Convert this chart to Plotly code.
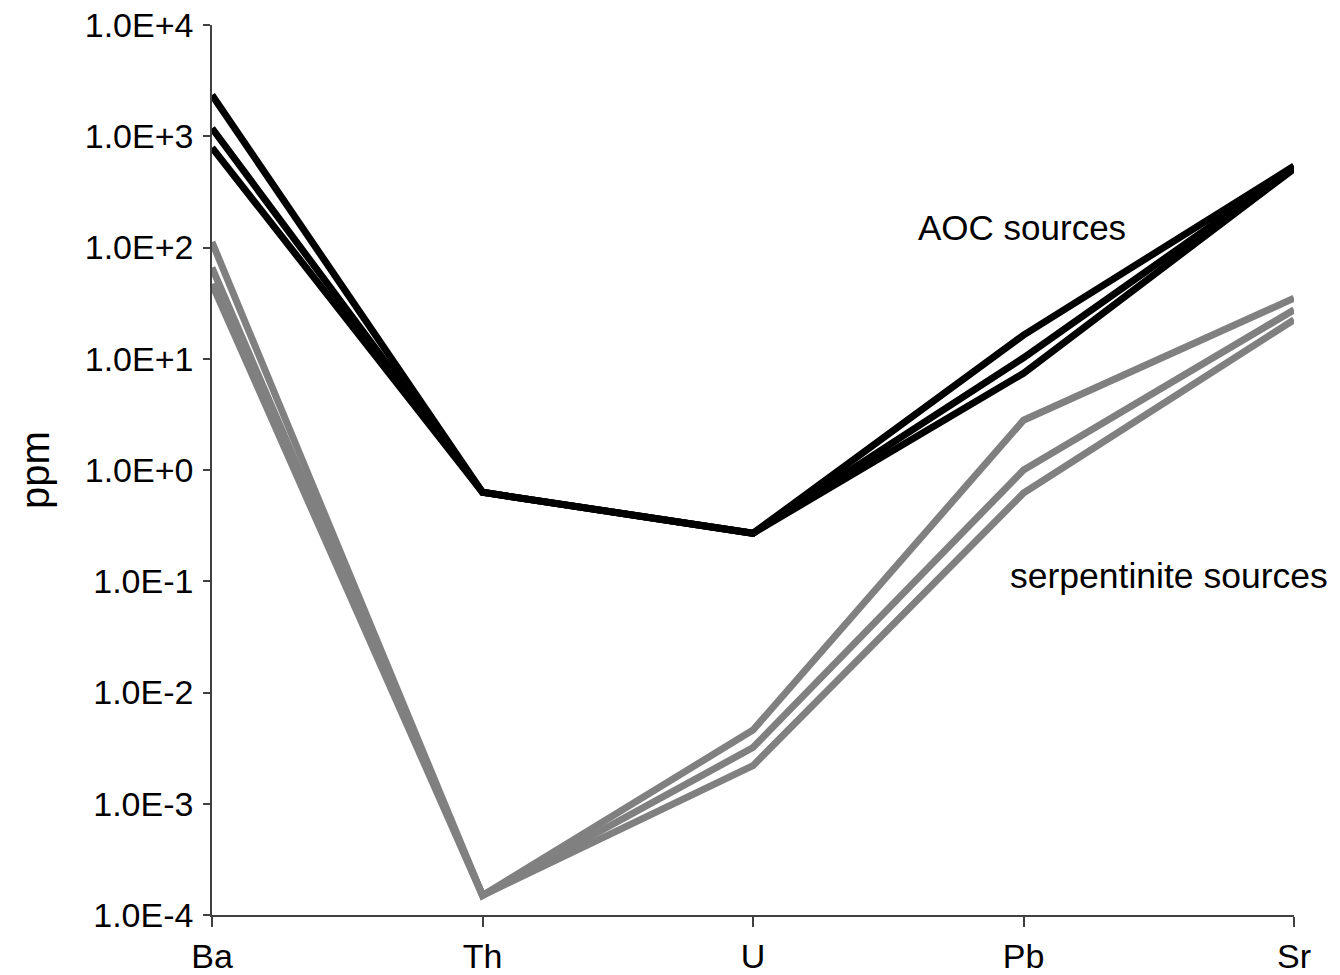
import plotly.graph_objects as go

# Trace-element abundances (ppm) for fluid sources
elements = ["Ba", "Th", "U", "Pb", "Sr"]

aoc_1 = [2350, 0.63, 0.27, 16.3, 540]
aoc_2 = [1180, 0.63, 0.27, 10.2, 525]
aoc_3 = [790, 0.63, 0.27, 7.4, 510]

serp_1 = [112, 0.00015, 0.0046, 2.8, 35]
serp_2 = [66, 0.00015, 0.0032, 1.0, 27.5]
serp_3 = [47, 0.00015, 0.0022, 0.62, 22.4]

tick_vals = [1e-4, 1e-3, 1e-2, 1e-1, 1e0, 1e1, 1e2, 1e3, 1e4]
tick_text = ["1.0E-4", "1.0E-3", "1.0E-2", "1.0E-1", "1.0E+0",
             "1.0E+1", "1.0E+2", "1.0E+3", "1.0E+4"]

xpos = list(range(len(elements)))

fig = go.Figure()
for ys in (serp_1, serp_2, serp_3):
    fig.add_trace(go.Scatter(x=xpos, y=ys, mode="lines",
                             line=dict(color="#808080", width=7),
                             showlegend=False, hoverinfo="skip"))
for ys in (aoc_1, aoc_2, aoc_3):
    fig.add_trace(go.Scatter(x=xpos, y=ys, mode="lines",
                             line=dict(color="#000000", width=7),
                             showlegend=False, hoverinfo="skip"))

fig.add_annotation(x=3.386, y=2.18, xref="x", yref="y", text="AOC sources",
                   showarrow=False, xanchor="right", yanchor="middle",
                   font=dict(size=35, color="#000000"))
fig.add_annotation(x=1.0333, y=-0.95, xref="paper", yref="y", text="serpentinite sources",
                   showarrow=False, xanchor="right", yanchor="middle",
                   font=dict(size=35.5, color="#000000"))
fig.add_annotation(x=-0.1636, y=0, xref="paper", yref="y", text="ppm",
                   showarrow=False, xanchor="center", yanchor="middle",
                   textangle=-90, font=dict(size=40, color="#000000"))

fig.update_layout(
    width=1340, height=975,
    margin=dict(l=212, r=46, t=25, b=60, autoexpand=False),
    paper_bgcolor="white", plot_bgcolor="white",
    font=dict(family="Liberation Sans, Arial, sans-serif", size=34, color="#000000"),
    xaxis=dict(range=[0, 4], tickvals=xpos, ticktext=elements, automargin=False,
               showgrid=False, zeroline=False, showline=True,
               linecolor="#404040", linewidth=1.5,
               ticks="outside", ticklen=10, tickcolor="#404040", tickwidth=1.5,
               tickfont=dict(size=34)),
    yaxis=dict(type="log", range=[-4, 4], tickvals=tick_vals, ticktext=tick_text,
               automargin=False, ticklabelstandoff=3,
               showgrid=False, zeroline=False, showline=True,
               linecolor="#404040", linewidth=1.5,
               ticks="outside", ticklen=7, tickcolor="#404040", tickwidth=1.5,
               tickfont=dict(size=34)),
)

fig.write_html("out.html")
